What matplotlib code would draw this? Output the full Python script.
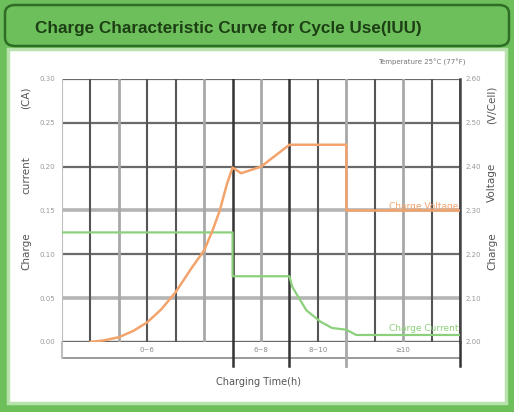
import matplotlib.pyplot as plt
from matplotlib.patches import FancyBboxPatch, Rectangle

title = "Charge Characteristic Curve for Cycle Use(IUU)"
temp_note = "Temperature 25\u00b0C (77\u00b0F)"

hours = list(range(0, 15))
current_ticks = [0.00, 0.05, 0.10, 0.15, 0.20, 0.25, 0.30]
voltage_ticks = [2.00, 2.10, 2.20, 2.30, 2.40, 2.50, 2.60]
segment_edges = [0, 6, 8, 10, 14]
segment_labels = ["0~6", "6~8", "8~10", "\u226510"]

# charge voltage (V/cell) vs time (h)
volt_t = [1.0, 1.5, 2.0, 2.5, 3.0, 3.5, 4.0, 4.55, 5.0, 5.3, 5.55, 5.8, 6.0,
          6.3, 7.0, 8.0, 10.0, 10.0, 14.0]
volt_v = [2.000, 2.004, 2.011, 2.025, 2.045, 2.075, 2.114, 2.168, 2.209, 2.255,
          2.300, 2.360, 2.398, 2.385, 2.400, 2.450, 2.450, 2.300, 2.300]

# charge current (CA) vs time (h)
curr_t = [0.0, 6.0, 6.0, 8.0, 8.1, 8.3, 8.6, 9.1, 9.5, 10.0, 10.35, 14.0]
curr_i = [0.125, 0.125, 0.075, 0.075, 0.063, 0.052, 0.036, 0.023, 0.016,
          0.014, 0.008, 0.008]

ORANGE = "#f3a36c"
GREEN = "#8bd07a"
DARK = "#6a6a6a"
LIGHT = "#b4b4b4"

W, H = 514, 412
fig = plt.figure(figsize=(W / 100, H / 100), dpi=100)
fig.patch.set_facecolor("#6cbf5a")


def fx(px):
    return px / W


def fy(py):
    return 1 - py / H


# white panel + title banner (behind the axes)
fig.patches.append(Rectangle((fx(8), fy(403)), fx(498), (403 - 49) / H,
                             transform=fig.transFigure, facecolor="white",
                             edgecolor="#b8e2ad", linewidth=2.5, zorder=-10))
fig.patches.append(FancyBboxPatch((fx(5), fy(46)), fx(504), 41 / H,
                                  boxstyle="round,pad=0,rounding_size=0.02",
                                  transform=fig.transFigure, facecolor="#6cbf5a",
                                  edgecolor="#2f6d24", linewidth=1.8, zorder=-10))
fig.text(fx(35), fy(29), title, fontsize=12.3, fontweight="bold",
         color="#1d3f14", family="Liberation Sans", va="center", ha="left")

ax = fig.add_axes([fx(62), fy(342), fx(460 - 62), (342 - 79) / H])
ax.set_xlim(0, 14)
ax.set_ylim(0, 0.30)
ax.patch.set_alpha(0)
for s in ax.spines.values():
    s.set_visible(False)

# grid
light_h = {0.15, 0.05}
for v in current_ticks:
    if v in light_h:
        ax.axhline(v, color=LIGHT, lw=2.6, zorder=1)
    else:
        ax.axhline(v, color=DARK, lw=1.6 if v > 0 else 2.4, zorder=1)
light_v = {2, 5, 7, 10, 12}
for h in hours[1:]:
    if h in (6, 8, 14):
        c, lw = "#333333", 1.8
    elif h in light_v:
        c, lw = "#a8a8a8", 2.0
    else:
        c, lw = "#555555", 1.5
    ax.axvline(h, color=c, lw=lw, zorder=1)
ax.axvline(0, color="#bdbdbd", lw=1.5, zorder=1)

ax.plot(curr_t, curr_i, color=GREEN, lw=1.6, zorder=3)
axr = ax.twinx()
axr.set_ylim(2.0, 2.6)
axr.patch.set_alpha(0)
for s in axr.spines.values():
    s.set_visible(False)
axr.plot(volt_t, volt_v, color=ORANGE, lw=1.8, zorder=3)

ax.set_yticks(current_ticks)
ax.set_yticklabels([f"{v:.2f}" for v in current_ticks])
axr.set_yticks(voltage_ticks)
axr.set_yticklabels([f"{v:.2f}" for v in voltage_ticks])
ax.set_xticks([])
ax.tick_params(axis="y", length=0, pad=5, labelsize=5, labelcolor="#9a9a9a")
axr.tick_params(axis="y", length=0, pad=4, labelsize=5, labelcolor="#9a9a9a")

# time band under the plot
tr = ax.get_xaxis_transform()
ax.plot([0, 14], [-0.062, -0.062], transform=tr, color="#9a9a9a", lw=1.4,
        clip_on=False)
ax.plot([0, 0], [0, -0.062], transform=tr, color="#bdbdbd", lw=1.5, clip_on=False)
for e in segment_edges[1:]:
    c = "#333333" if e != 10 else "#a8a8a8"
    ax.plot([e, e], [0, -0.092], transform=tr, color=c,
            lw=1.8 if e != 10 else 2.0, clip_on=False)
for lab, a, b in zip(segment_labels, segment_edges[:-1], segment_edges[1:]):
    ax.text((a + b) / 2, -0.031, lab, transform=tr, ha="center", va="center",
            fontsize=5, color="#8a8a8a")
ax.plot([14, 14], [0, 1.0], transform=tr, color="#444444", lw=1.8, clip_on=False)

# in-plot labels
axr.text(13.95, 2.30, "Charge Voltage", ha="right", va="bottom", fontsize=6.5,
         color=ORANGE, zorder=4)
ax.text(13.95, 0.010, "Charge Current", ha="right", va="bottom", fontsize=6.5,
        color=GREEN, zorder=4)

fig.text(fx(466), fy(62), temp_note, ha="right", va="center", fontsize=5,
         color="#777777")
fig.text(fx(258), fy(382), "Charging Time(h)", ha="center", va="center",
         fontsize=7, color="#555555")

for word, py in [("Charge", 251), ("current", 175), ("(CA)", 98)]:
    fig.text(fx(26), fy(py), word, rotation=90, ha="center", va="center",
             fontsize=7.5, color="#555555")
for word, py in [("Charge", 251), ("Voltage", 182), ("(V/Cell)", 105)]:
    fig.text(fx(492), fy(py), word, rotation=90, ha="center", va="center",
             fontsize=7.5, color="#555555")

fig.savefig("out.png", dpi=100, facecolor=fig.get_facecolor())
